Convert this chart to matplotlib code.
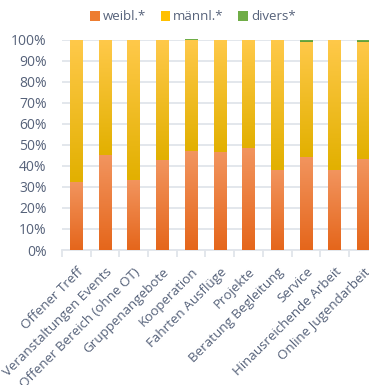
#!/usr/bin/env python3
"""Anteil weibl./männl./divers je Angebotsbereich (gestapelte 100%-Balken)"""

import numpy as np
import matplotlib
matplotlib.use("Agg")
import matplotlib.pyplot as plt
import matplotlib.ticker as ticker
from matplotlib.colors import LinearSegmentedColormap
from matplotlib.patches import Patch

CATEGORIES = [
    "Offener Treff",
    "Veranstaltungen Events",
    "Offener Bereich (ohne OT)",
    "Gruppenangebote",
    "Kooperation",
    "Fahrten Ausflüge",
    "Projekte",
    "Beratung Begleitung",
    "Service",
    "Hinausreichende Arbeit",
    "Online Jugendarbeit",
]
WEIBL = [32.5, 45.1, 33.3, 42.8, 47.0, 46.6, 48.6, 38.2, 44.2, 38.2, 43.0]
DIVERS = [0.4, 0.4, 0.4, 0.3, 0.3, 0.0, 0.4, 0.0, 1.0, 0.0, 1.0]
MAENNL = [100 - w - d for w, d in zip(WEIBL, DIVERS)]

SERIES = [
    ("weibl.*", WEIBL, "#ED7D31", ("#E5661B", "#F2955F")),
    ("männl.*", MAENNL, "#FFC000", ("#E2B000", "#FFC94A")),
    ("divers*", DIVERS, "#70AD47", ("#5E9B38", "#7DBA52")),
]

TEXT_COLOR = "#56627A"
GRID_COLOR = "#E1E5EB"
FONT = "Open Sans"

plt.rcParams["font.family"] = [FONT, "DejaVu Sans"]

fig = plt.figure(figsize=(3.69, 3.85), dpi=100)
ax = fig.add_axes([62 / 369, 1 - 250 / 385, 315.7 / 369, 210.5 / 385])

x = np.arange(len(CATEGORIES))
bottom = np.zeros(len(CATEGORIES))
grad = np.linspace(0, 1, 256).reshape(-1, 1)

for name, vals, solid, (c_lo, c_hi) in SERIES:
    vals = np.array(vals) / 100
    cmap = LinearSegmentedColormap.from_list(name, [c_lo, c_hi])
    bars = ax.bar(x, vals, 0.44, bottom=bottom, color="none", zorder=3)
    for b in bars:
        h = b.get_height()
        if h <= 0:
            continue
        bx, by, bw = b.get_x(), b.get_y(), b.get_width()
        im = ax.imshow(grad, cmap=cmap, origin="lower", aspect="auto",
                       extent=(bx, bx + bw, by, by + h), zorder=3,
                       interpolation="bilinear")
        im.set_clip_path(b)
    bottom += vals

ax.set_xlim(-0.5, len(CATEGORIES) - 0.5)
ax.set_ylim(0, 1)

ax.yaxis.set_major_locator(ticker.MultipleLocator(0.1))
ax.yaxis.set_major_formatter(ticker.PercentFormatter(1.0, decimals=0))
ax.grid(axis="y", color=GRID_COLOR, lw=1.3, zorder=0)
ax.set_axisbelow(True)

for side in ("top", "right", "left"):
    ax.spines[side].set_visible(False)
ax.spines["bottom"].set_color(GRID_COLOR)
ax.spines["bottom"].set_linewidth(1.3)

ax.tick_params(axis="y", length=0, pad=11, labelsize=10, labelcolor=TEXT_COLOR)
ax.set_xticks(x)
ax.set_xticklabels(CATEGORIES, rotation=45, ha="right", va="top",
                   rotation_mode="anchor")
ax.tick_params(axis="x", which="major", length=0, pad=11, labelsize=9.6,
               labelcolor=TEXT_COLOR)
ax.set_xticks(np.arange(len(CATEGORIES) + 1) - 0.5, minor=True)
ax.tick_params(axis="x", which="minor", length=5, width=1.3, color=GRID_COLOR)

handles = [Patch(facecolor=s[2], edgecolor="none") for s in SERIES]
fig.legend(handles, [s[0] for s in SERIES], loc="center",
           bbox_to_anchor=(193 / 369, 1 - 17 / 385), ncol=3, frameon=False,
           fontsize=9.5, labelcolor=TEXT_COLOR, handlelength=0.7,
           handleheight=0.7, handletextpad=0.25, columnspacing=1.1)

fig.savefig("out.png", dpi=100)
